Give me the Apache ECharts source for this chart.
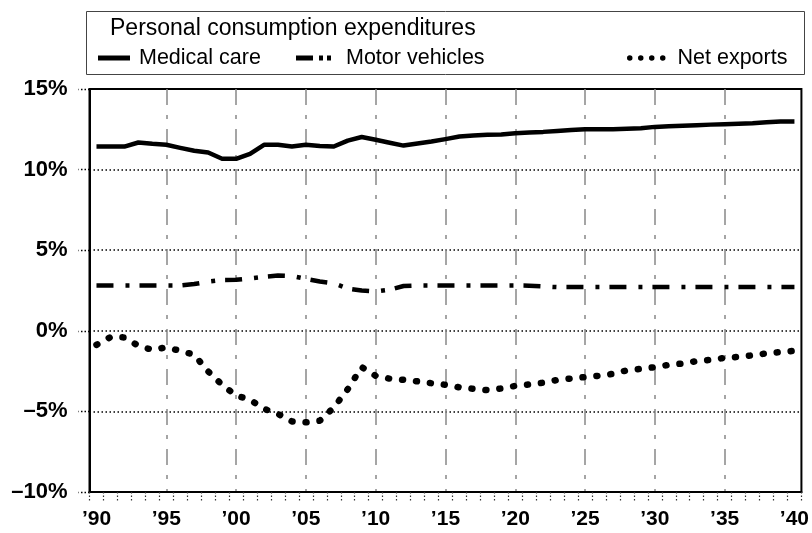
<!DOCTYPE html>
<html>
<head>
<meta charset="utf-8">
<script src="https://cdn.jsdelivr.net/npm/echarts@6/dist/echarts.min.js"></script>
<style>
html,body{margin:0;padding:0;background:#fff;}
#chart{width:812px;height:533px;}
</style>
</head>
<body>
<div id="chart"></div>
<script>
var years = ['1990','1991','1992','1993','1994','1995','1996','1997','1998','1999',
  '2000','2001','2002','2003','2004','2005','2006','2007','2008','2009',
  '2010','2011','2012','2013','2014','2015','2016','2017','2018','2019',
  '2020','2021','2022','2023','2024','2025','2026','2027','2028','2029',
  '2030','2031','2032','2033','2034','2035','2036','2037','2038','2039','2040'];

var medicalCare = [11.43,11.43,11.43,11.68,11.60,11.54,11.35,11.17,11.06,10.67,
  10.67,10.98,11.54,11.54,11.43,11.54,11.47,11.43,11.80,12.02,
  11.85,11.67,11.49,11.62,11.74,11.89,12.05,12.12,12.16,12.18,
  12.26,12.30,12.34,12.40,12.46,12.51,12.51,12.51,12.54,12.57,
  12.65,12.69,12.72,12.75,12.79,12.82,12.85,12.88,12.93,12.98,12.98];

var motorVehicles = [2.81,2.81,2.81,2.81,2.81,2.81,2.81,2.90,3.05,3.15,
  3.16,3.25,3.35,3.43,3.40,3.22,3.06,2.95,2.62,2.50,
  2.44,2.55,2.78,2.81,2.81,2.81,2.81,2.81,2.81,2.81,
  2.81,2.80,2.75,2.71,2.71,2.71,2.71,2.71,2.71,2.71,
  2.71,2.71,2.71,2.71,2.71,2.71,2.71,2.71,2.71,2.71,2.71];

var netExports = [-0.87,-0.39,-0.41,-0.93,-1.18,-1.03,-1.24,-1.49,-2.52,-3.35,
  -4.01,-4.28,-4.84,-5.15,-5.62,-5.68,-5.58,-4.76,-3.62,-2.25,
  -2.79,-2.97,-3.04,-3.14,-3.25,-3.35,-3.51,-3.60,-3.68,-3.58,
  -3.42,-3.33,-3.22,-3.05,-2.96,-2.87,-2.79,-2.67,-2.45,-2.36,
  -2.26,-2.11,-2.03,-1.88,-1.80,-1.68,-1.62,-1.52,-1.40,-1.32,-1.24];

var yTickValues = [-10,-5,0,5,10,15];
var yTickLabels = ['\u201310%','\u20135%','0%','5%','10%','15%'];

var seriesNames = ['Medical care','Motor vehicles','Net exports'];
var legendTitle = 'Personal consumption expenditures';

var FONT = '"Liberation Sans", Arial, Helvetica, sans-serif';

var iconSolid = 'path://M0,0H32V5H0Z';
var iconDashDot = 'path://M0,0H17V5H0Z M23,0H27V5H23Z M31,0H35V5H31Z';
var iconDots = 'path://M0,2.75A2.75,2.75 0 1,0 5.5,2.75A2.75,2.75 0 1,0 0,2.75Z M11,2.75A2.75,2.75 0 1,0 16.5,2.75A2.75,2.75 0 1,0 11,2.75Z M22,2.75A2.75,2.75 0 1,0 27.5,2.75A2.75,2.75 0 1,0 22,2.75Z M33,2.75A2.75,2.75 0 1,0 38.5,2.75A2.75,2.75 0 1,0 33,2.75Z';

var chart = echarts.init(document.getElementById('chart'), null, {renderer:'canvas'});

var legendText = {fontFamily: FONT, fontSize: 21.5, color: '#000'};

chart.setOption({
  animation: false,
  backgroundColor: '#fff',
  title: {
    text: legendTitle,
    left: 110, top: 17, padding: 0,
    textStyle: {fontFamily: FONT, fontSize: 23, fontWeight: 'normal', color: '#000'}
  },
  graphic: [{
    type: 'rect',
    shape: {x: 86.5, y: 11.5, width: 718, height: 63},
    style: {fill: 'none', stroke: '#444', lineWidth: 1},
    silent: true
  }],
  legend: [
    {data: [{name: seriesNames[0], icon: iconSolid}], left: 98, top: 47, padding: 0,
     itemWidth: 32, itemHeight: 5, itemStyle: {color: '#000'},
     textStyle: Object.assign({}, legendText, {padding: [0,0,0,4]})},
    {data: [{name: seriesNames[1], icon: iconDashDot}], left: 296, top: 47, padding: 0,
     itemWidth: 35, itemHeight: 5, itemStyle: {color: '#000'},
     textStyle: Object.assign({}, legendText, {padding: [0,0,0,10]})},
    {data: [{name: seriesNames[2], icon: iconDots}], left: 627, top: 47, padding: 0,
     itemWidth: 38.5, itemHeight: 5.5, itemStyle: {color: '#000'},
     textStyle: Object.assign({}, legendText, {padding: [0,0,0,7]})}
  ],
  grid: {
    left: 89.5, right: 7, top: 89, bottom: 41,
    show: true, borderColor: '#000', borderWidth: 2,
    containLabel: false
  },
  xAxis: {
    type: 'category',
    data: years,
    boundaryGap: true,
    axisLine: {show: true, onZero: false, lineStyle: {color: '#000', width: 2}},
    axisTick: {show: true, interval: 0, length: 10, lineStyle: {color: '#333', width: 1.2, type: [1.5, 2]}},
    axisLabel: {
      interval: 4, margin: 17,
      fontFamily: FONT, fontSize: 21, fontWeight: 'bold', color: '#000',
      formatter: function (v) { return '\u2019' + v.slice(2); }
    },
    splitLine: {
      show: true,
      alignWithLabel: true,
      interval: function (idx) { return idx % 5 === 0 && idx !== 0 && idx !== years.length - 1; },
      lineStyle: {color: '#888', width: 1.5, type: [16, 10, 4, 10]}
    }
  },
  yAxis: {
    type: 'value',
    min: -10, max: 15, interval: 5,
    axisLine: {show: true, lineStyle: {color: '#000', width: 2}},
    axisTick: {show: true, length: 11, lineStyle: {color: '#000', width: 1.3, type: [1.5, 2]}},
    axisLabel: {
      margin: 22,
      fontFamily: FONT, fontSize: 22, fontWeight: 'bold', color: '#000',
      formatter: function (v) { var i = yTickValues.indexOf(v); return i >= 0 ? yTickLabels[i] : ''; }
    },
    splitLine: {show: true, lineStyle: {color: '#000', width: 1.5, type: [1.5, 2.5]}}
  },
  series: [
    {
      name: seriesNames[0], type: 'line', data: medicalCare, symbol: 'none', z: 5,
      lineStyle: {color: '#000', width: 4.5, type: 'solid', join: 'round'},
      itemStyle: {color: '#000'}
    },
    {
      name: seriesNames[1], type: 'line', data: motorVehicles, symbol: 'none', z: 5,
      lineStyle: {color: '#000', width: 4.5, type: [17, 12, 4, 10], cap: 'butt'},
      itemStyle: {color: '#000'}
    },
    {
      name: seriesNames[2], type: 'line', data: netExports, symbol: 'none', z: 5,
      lineStyle: {color: '#000', width: 6.5, type: [1, 13], cap: 'round'},
      itemStyle: {color: '#000'}
    }
  ]
});
</script>
</body>
</html>
